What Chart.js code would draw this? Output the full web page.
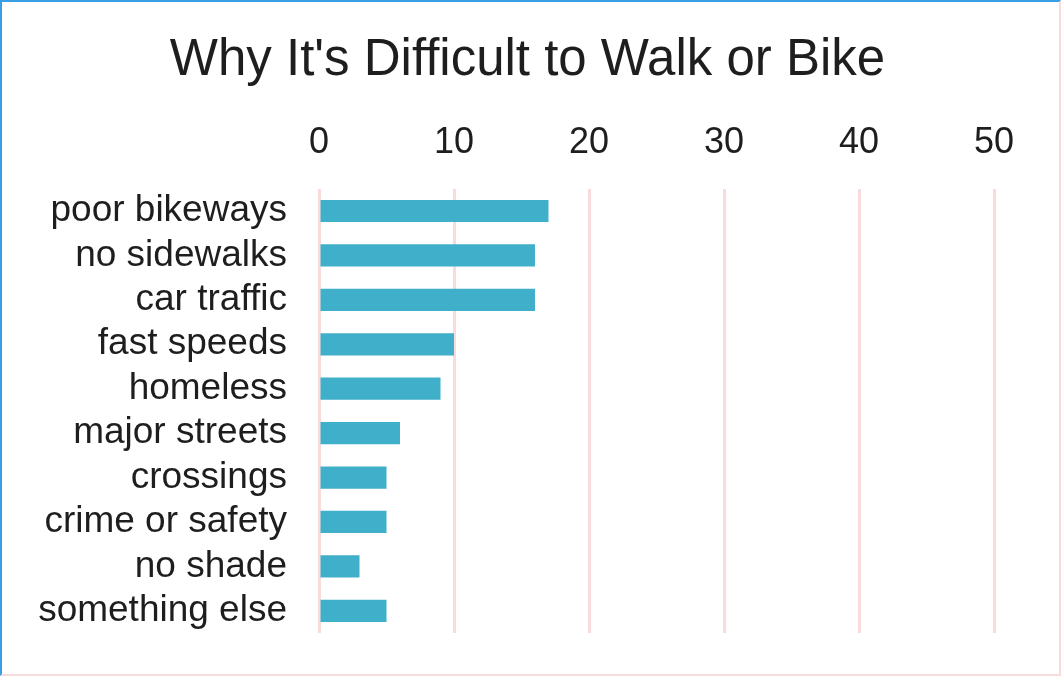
<!DOCTYPE html>
<html>
<head>
<meta charset="utf-8">
<script src="https://cdn.jsdelivr.net/npm/chart.js@4.4.1/dist/chart.umd.min.js"></script>
<style>
  html, body { margin: 0; padding: 0; background: #fff; }
  #wrap { position: relative; width: 1061px; height: 676px; }
  #frame {
    position: absolute; left: 0; top: 0; right: 0; bottom: 0;
    border-top: 2px solid #3a9fe2; border-left: 2px solid #3a9fe2;
    border-right: 2px solid #f7dcdc; border-bottom: 2px solid #f7dcdc;
    pointer-events: none;
  }
  canvas { position: absolute; left: 0; top: 0; }
</style>
</head>
<body>
<div id="wrap">
  <canvas id="chart" width="1061" height="676"></canvas>
  <div id="frame"></div>
</div>
<script>
const chartTitle = "Why It's Difficult to Walk or Bike";
const categories = [
  "poor bikeways", "no sidewalks", "car traffic", "fast speeds", "homeless",
  "major streets", "crossings", "crime or safety", "no shade", "something else"
];
const responses = [17, 16, 16, 10, 9, 6, 5, 5, 3, 5];
const tickValues = [0, 10, 20, 30, 40, 50];

const textColor = "#1e1e1e";
const gridColor = "#f8dcdc";
const barColor  = "#40afc9";
const fontFamily = "'Liberation Sans', Arial, sans-serif";

const ctx = document.getElementById("chart").getContext("2d");
new Chart(ctx, {
  type: "bar",
  data: {
    labels: categories,
    datasets: [{
      data: responses,
      backgroundColor: barColor,
      borderWidth: 0,
      barPercentage: 0.5,
      categoryPercentage: 1.0
    }]
  },
  options: {
    indexAxis: "y",
    responsive: false,
    animation: false,
    layout: { padding: { left: 0, right: 6, top: 0, bottom: 43 } },
    plugins: {
      legend: { display: false },
      tooltip: { enabled: false },
      title: {
        display: true,
        text: chartTitle,
        color: textColor,
        font: { family: fontFamily, size: 51, weight: "normal" },
        padding: { top: 30, bottom: 0 }
      }
    },
    scales: {
      x: {
        position: "top",
        min: tickValues[0],
        max: tickValues[tickValues.length - 1],
        afterBuildTicks: scale => { scale.ticks = tickValues.map(v => ({ value: v })); },
        afterFit: scale => { scale.height = 97.6; },
        grid: { color: gridColor, lineWidth: 3, drawTicks: false },
        border: { display: false },
        ticks: {
          color: textColor,
          padding: 24,
          font: { family: fontFamily, size: 36 }
        }
      },
      y: {
        afterFit: scale => {
          scale.width = 319;
          // labels sit inside their bands, so no extra room above/below is needed
          scale.paddingTop = 0;
          scale.paddingBottom = 0;
        },
        grid: { display: false, drawTicks: false },
        border: { display: false },
        ticks: {
          color: textColor,
          padding: 32,
          autoSkip: false,
          font: { family: fontFamily, size: 37 }
        }
      },
      // empty axis on the right, only keeps the plot area where it sits in the original
      spacer: {
        type: "linear",
        position: "right",
        afterFit: scale => {
          scale.width = 61;
          scale.paddingTop = 0;
          scale.paddingBottom = 0;
        },
        grid: { display: false, drawTicks: false },
        border: { display: false },
        ticks: { display: false }
      }
    }
  }
});
</script>
</body>
</html>
